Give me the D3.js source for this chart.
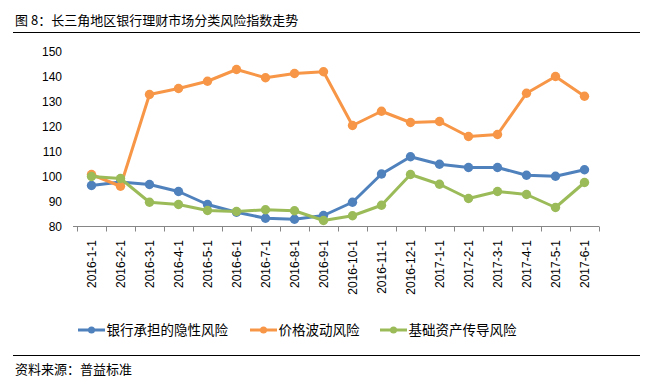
<!DOCTYPE html>
<html><head><meta charset="utf-8">
<script src="https://cdn.jsdelivr.net/npm/d3@7"></script>
<style>body{margin:0;background:#fff}svg{display:block}</style>
</head><body>
<script>
const categories = ["2016-1-1","2016-2-1","2016-3-1","2016-4-1","2016-5-1","2016-6-1","2016-7-1","2016-8-1","2016-9-1","2016-10-1","2016-11-1","2016-12-1","2017-1-1","2017-2-1","2017-3-1","2017-4-1","2017-5-1","2017-6-1"];
const bankRisk = [96.4,97.8,96.8,94.0,88.8,85.7,83.3,82.9,84.4,89.7,101.0,107.9,104.9,103.6,103.6,100.5,100.1,102.7];
const priceRisk = [100.8,96.1,132.8,135.2,138.1,142.8,139.5,141.2,141.9,120.4,126.1,121.6,122.0,116.0,116.8,133.3,140.0,132.1];
const assetRisk = [100.0,99.2,89.7,88.8,86.4,86.0,86.7,86.3,82.4,84.3,88.5,100.8,96.9,91.2,94.0,92.8,87.6,97.6];
const seriesNames = ["银行承担的隐性风险","价格波动风险","基础资产传导风险"];
const yTicks = [80,90,100,110,120,130,140,150];
const titleText = "图 8：长三角地区银行理财市场分类风险指数走势";
const sourceText = "资料来源：普益标准";

const series = [
  {name: seriesNames[0], values: bankRisk, color: "#4F81BD"},
  {name: seriesNames[1], values: priceRisk, color: "#F79646"},
  {name: seriesNames[2], values: assetRisk, color: "#9BBB59"}
];

const W = 645, H = 382;
const font = "'Noto Sans CJK SC', 'Noto Sans', sans-serif";
const svg = d3.select("body").append("svg").attr("width", W).attr("height", H);

// title
svg.append("text").attr("x", 15).attr("y", 25).attr("font-family", font).attr("font-size", 13).attr("fill", "#000").text(titleText);
svg.append("line").attr("x1", 13).attr("x2", 640).attr("y1", 32.5).attr("y2", 32.5).attr("stroke", "#000").attr("stroke-width", 1);

// footer
svg.append("line").attr("x1", 13).attr("x2", 640).attr("y1", 355.5).attr("y2", 355.5).attr("stroke", "#000").attr("stroke-width", 1);
svg.append("text").attr("x", 15).attr("y", 374).attr("font-family", font).attr("font-size", 13).attr("fill", "#000").text(sourceText);

const x = d3.scaleBand().domain(categories).range([77, 599]);
const y = d3.scaleLinear().domain([80, 150]).range([226.5, 51.5]);

// y axis labels (no line)
const yAxis = svg.append("g").attr("transform", "translate(77,0)")
  .call(d3.axisLeft(y).tickValues(yTicks).tickSize(0).tickPadding(15));
yAxis.select(".domain").remove();
yAxis.selectAll("text").attr("font-family", "'Liberation Sans', Arial, sans-serif").attr("font-size", 12).attr("fill", "#000");

// x axis
const xg = svg.append("g");
xg.append("line").attr("x1", 73).attr("x2", 599).attr("y1", 226.5).attr("y2", 226.5).attr("stroke", "#868686").attr("stroke-width", 1);
const bounds = categories.map(c => x(c)).concat([x(categories[categories.length-1]) + x.bandwidth()]);
xg.selectAll("line.tick").data(bounds).join("line").attr("class","tick")
  .attr("x1", d => Math.round(d) + 0.5).attr("x2", d => Math.round(d) + 0.5)
  .attr("y1", 226.5).attr("y2", 231.5).attr("stroke", "#868686");
xg.selectAll("text").data(categories).join("text")
  .attr("transform", d => `translate(${x(d) + x.bandwidth()/2 + 4},240) rotate(-90)`)
  .attr("text-anchor", "end")
  .attr("font-family", "'Liberation Sans', Arial, sans-serif").attr("font-size", 12).attr("fill", "#000")
  .text(d => d);

// lines
const line = d3.line().x((d, i) => x(categories[i]) + x.bandwidth()/2).y(d => y(d));
series.forEach(s => {
  const g = svg.append("g");
  g.append("path").attr("d", line(s.values)).attr("fill", "none").attr("stroke", s.color).attr("stroke-width", 3).attr("stroke-linejoin", "round");
  g.selectAll("circle").data(s.values).join("circle")
    .attr("cx", (d, i) => x(categories[i]) + x.bandwidth()/2).attr("cy", d => y(d)).attr("r", 4.7).attr("fill", s.color);
});

// legend
const legendX = [78, 250, 380];
series.forEach((s, i) => {
  const g = svg.append("g").attr("transform", `translate(${legendX[i]},330)`);
  g.append("line").attr("x1", 0).attr("x2", 27).attr("y1", 0).attr("y2", 0).attr("stroke", s.color).attr("stroke-width", 3);
  g.append("circle").attr("cx", 13.5).attr("cy", 0).attr("r", 3.5).attr("fill", s.color);
  g.append("text").attr("x", 28.5).attr("y", 5).attr("font-family", font).attr("font-size", 13.5).attr("fill", "#000").text(s.name);
});
</script>
</body></html>
